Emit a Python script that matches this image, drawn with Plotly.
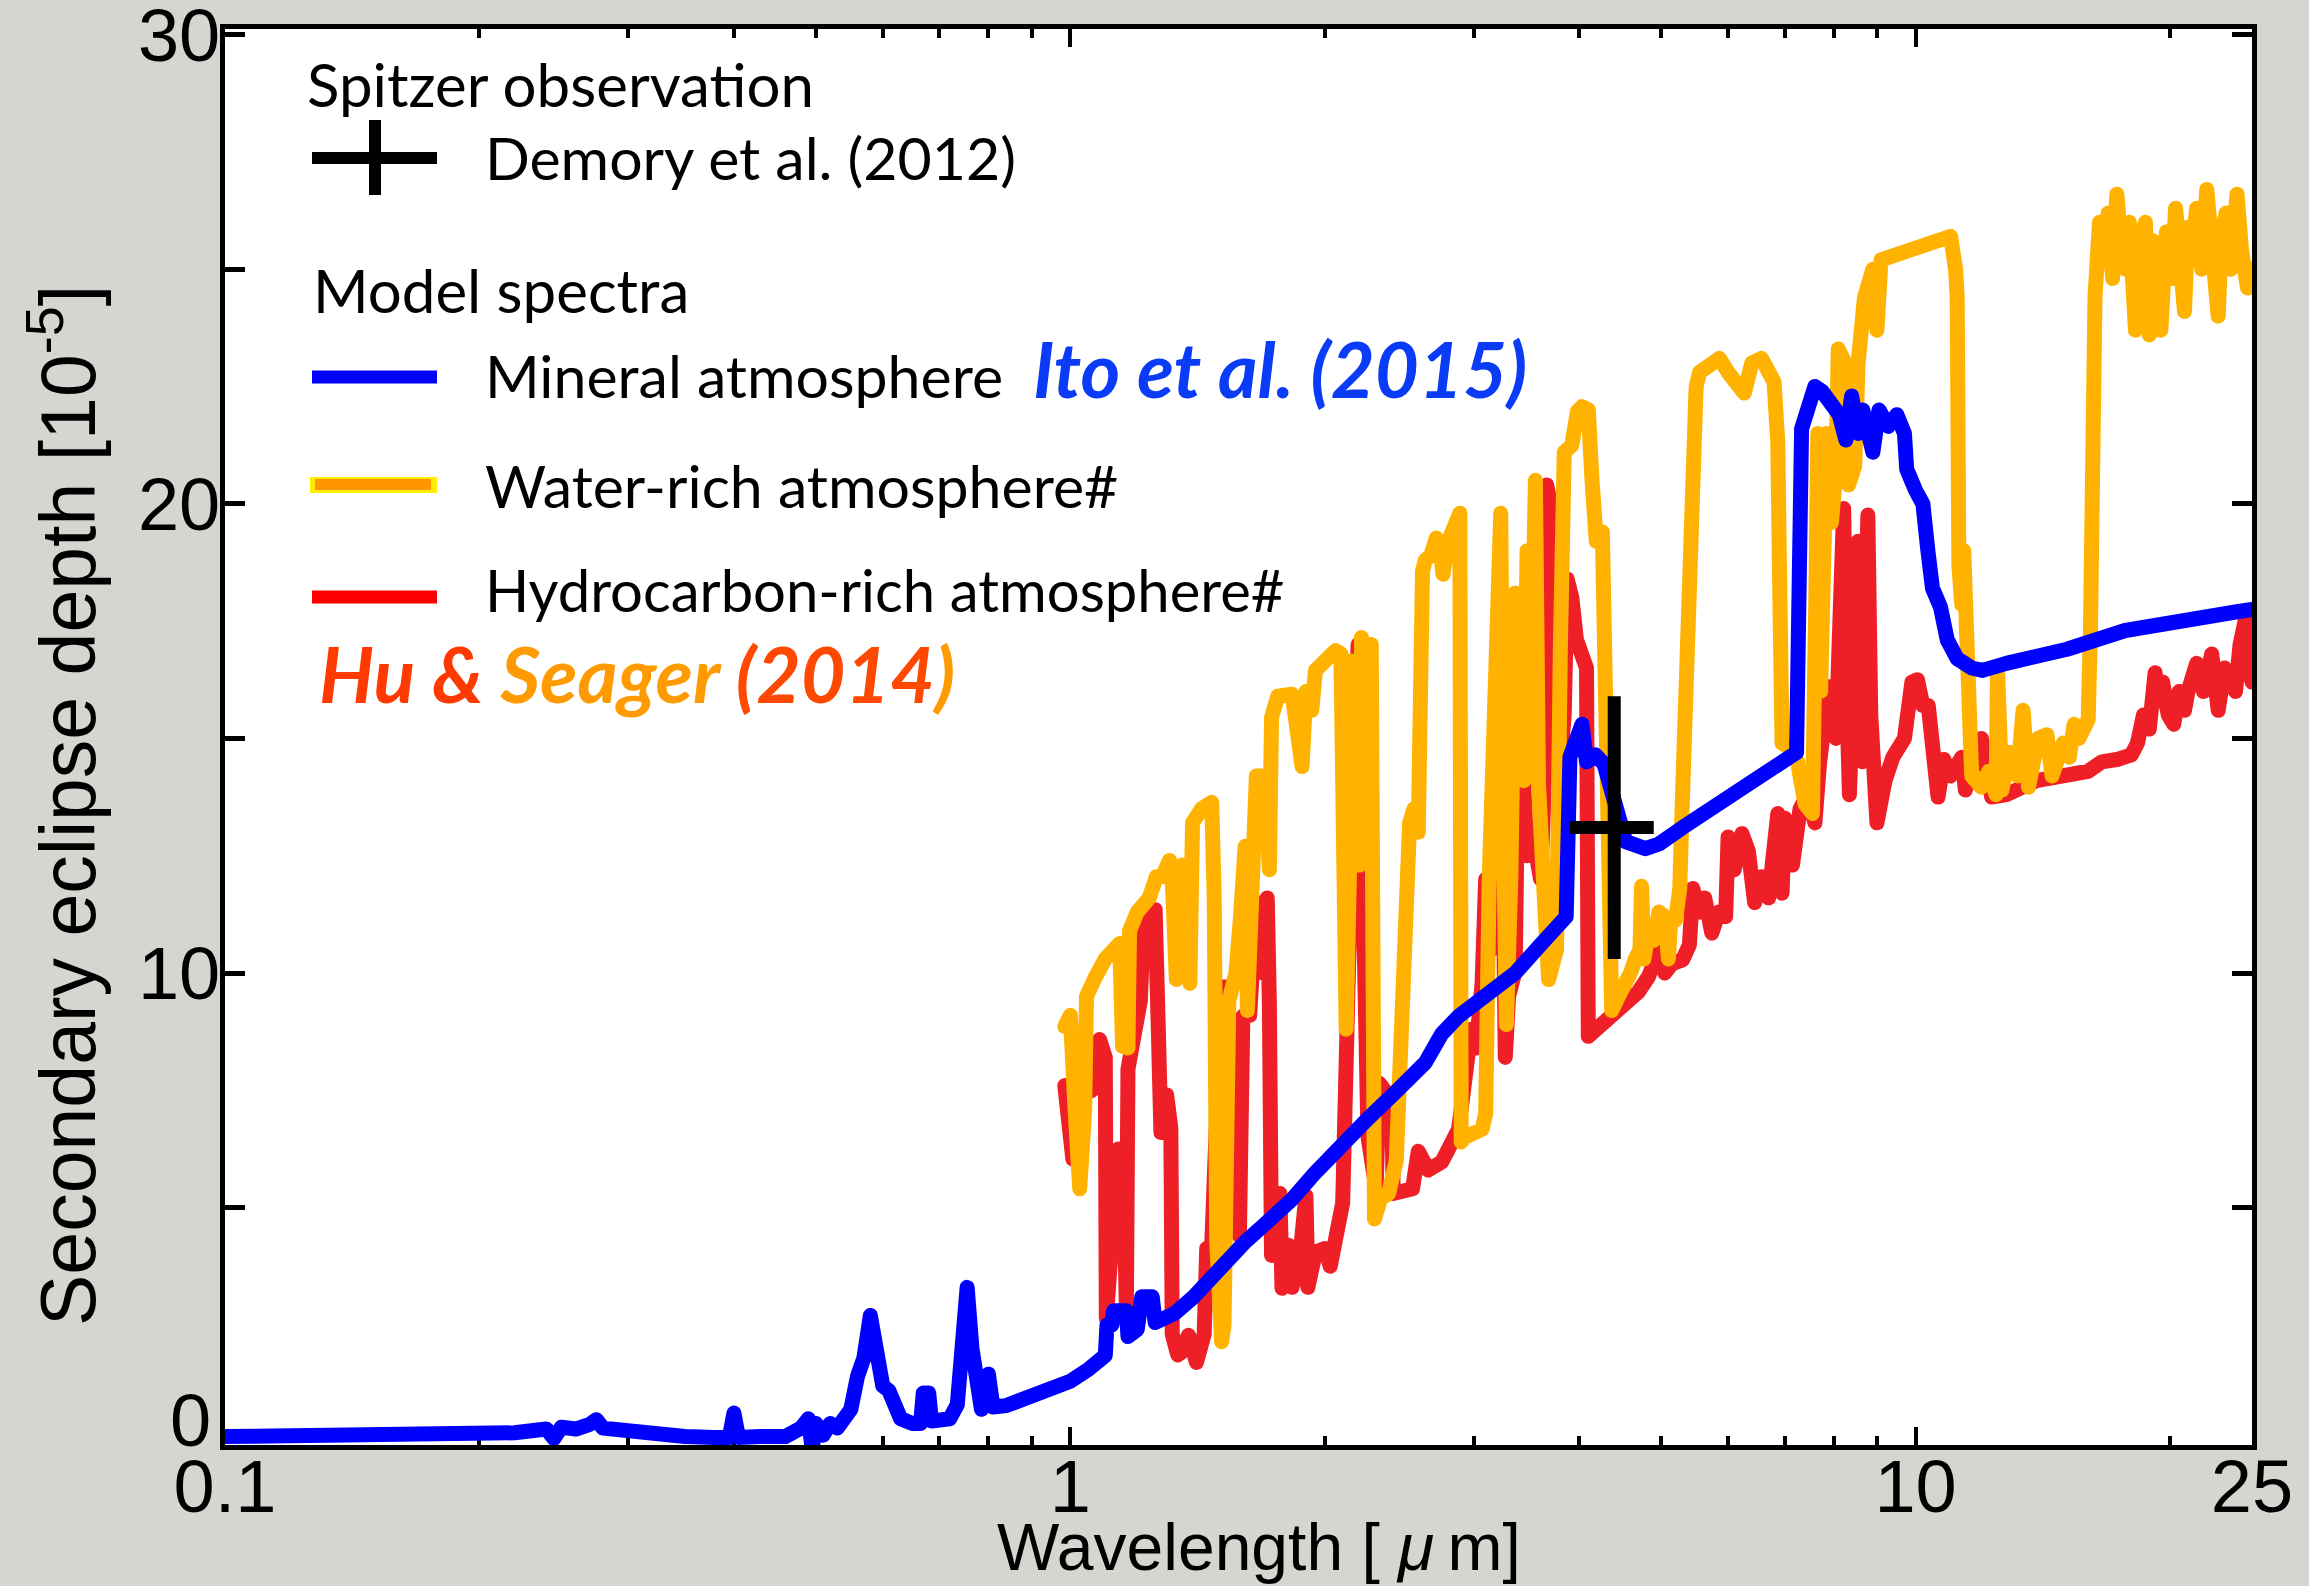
import plotly.graph_objects as go

# ---------------------------------------------------------------
# Model spectra: secondary eclipse depth [1e-5] vs wavelength [um]
# ---------------------------------------------------------------

# Mineral atmosphere (Ito et al. 2015)
mineral_wl = [
    0.100, 0.150, 0.200, 0.220, 0.240, 0.245, 0.250, 0.260, 0.270, 0.275,
    0.280, 0.290, 0.300, 0.310, 0.330, 0.350, 0.380, 0.395, 0.400, 0.405,
    0.430, 0.460, 0.480, 0.490, 0.495, 0.500, 0.510, 0.520, 0.530, 0.540,
    0.550, 0.560, 0.570, 0.580, 0.590, 0.600, 0.610, 0.620, 0.630, 0.650,
    0.665, 0.670, 0.680, 0.685, 0.700, 0.720, 0.735, 0.745, 0.755, 0.765,
    0.775, 0.785, 0.800, 0.810, 0.840, 0.900, 0.950, 1.000, 1.050, 1.080,
    1.100, 1.105, 1.120, 1.125, 1.165, 1.170, 1.200, 1.215, 1.250, 1.260,
    1.330, 1.400, 1.470, 1.540, 1.610, 1.700, 1.830, 1.950, 2.100, 2.250,
    2.400, 2.520, 2.630, 2.700, 2.750, 2.880, 3.100, 3.360, 3.600, 3.860,
    3.900, 4.030, 4.080, 4.180, 4.280, 4.390, 4.450, 4.540,
    4.790, 4.970, 5.300, 5.800, 6.640, 7.230, 7.330, 7.500, 7.600, 7.750,
    7.970, 8.120, 8.270, 8.400, 8.550, 8.660, 8.900, 9.050, 9.280, 9.500,
    9.700, 9.760, 9.990, 10.20, 10.34, 10.47, 10.70, 10.90, 11.20, 11.65,
    12.00, 12.80, 15.10, 17.70, 24.00, 25.00,
]
mineral_depth = [
    0.12, 0.12, 0.16, 0.20, 0.28, 0.08, 0.32, 0.28, 0.38, 0.48,
    0.30, 0.26, 0.22, 0.26, 0.15, 0.12, 0.10, 0.10, 0.62, 0.10,
    0.12, 0.12, 0.30, 0.50, -0.15, 0.40, 0.15, 0.40, 0.30, 0.50,
    0.70, 1.40, 1.80, 2.70, 1.80, 1.20, 1.10, 0.70, 0.50, 0.40,
    0.40, 1.05, 1.05, 0.45, 0.45, 0.50, 0.80, 1.80, 3.30, 2.00,
    1.00, 0.70, 1.45, 0.75, 0.78, 1.00, 1.12, 1.30, 1.55, 1.75,
    1.85, 2.50, 2.50, 2.80, 2.80, 2.25, 2.40, 3.10, 3.10, 2.55,
    2.75, 3.10, 3.55, 3.90, 4.27, 4.65, 5.18, 5.75, 6.38, 6.90,
    7.38, 7.75, 8.09, 8.45, 8.70, 9.08, 9.50, 10.00, 10.60, 11.20,
    14.60, 15.30, 14.50, 14.65, 14.45, 13.80, 13.30, 12.80,
    12.65, 12.75, 13.10, 13.55, 14.30, 14.70, 21.60, 22.20, 22.50, 22.40,
    22.00, 21.90, 21.36, 22.30, 21.50, 22.00, 21.10, 22.00, 21.65, 21.90,
    21.50, 20.74, 20.30, 20.00, 19.00, 18.20, 17.80, 17.10, 16.70, 16.50,
    16.45, 16.60, 16.90, 17.30, 17.70, 17.75,
]

# Water-rich atmosphere (Hu & Seager 2014)
water_wl = [
    0.985, 1.000, 1.012, 1.026, 1.040, 1.045, 1.070, 1.100, 1.144, 1.153,
    1.170, 1.175, 1.200, 1.240, 1.264, 1.285, 1.310, 1.320, 1.335, 1.355,
    1.385, 1.395, 1.430, 1.470, 1.480, 1.490, 1.510, 1.520, 1.540, 1.570,
    1.590, 1.610, 1.620, 1.640, 1.660, 1.700, 1.720, 1.730, 1.760, 1.830,
    1.850, 1.880, 1.900, 1.930, 1.950, 1.990, 2.060, 2.090, 2.100, 2.120,
    2.140, 2.150, 2.170, 2.200, 2.210, 2.240, 2.270, 2.280, 2.290, 2.330,
    2.380, 2.430, 2.470, 2.500, 2.520, 2.550, 2.580, 2.610, 2.630, 2.670,
    2.710, 2.740, 2.760, 2.800, 2.860, 2.890, 2.900, 2.930, 3.070, 3.100,
    3.130, 3.160, 3.230, 3.250, 3.280, 3.320, 3.360, 3.400, 3.440, 3.470,
    3.510, 3.550, 3.580, 3.680, 3.760, 3.800, 3.840, 3.920, 3.980, 4.030,
    4.100, 4.140, 4.180, 4.190, 4.260, 4.300, 4.330, 4.370, 4.450, 4.500,
    4.600, 4.660, 4.720, 4.740, 4.770, 4.830, 4.900, 4.970, 5.050, 5.100,
    5.130, 5.200, 5.260, 5.300, 5.380, 5.450, 5.500, 5.550, 5.860, 6.000,
    6.270, 6.400, 6.570, 6.800, 6.870, 6.900, 6.950, 7.100, 7.250, 7.400,
    7.550, 7.620, 7.660, 7.720, 7.780, 7.850, 7.950, 8.050, 8.100, 8.250,
    8.330, 8.470, 8.550, 8.700, 8.900, 9.000, 9.100, 9.500, 10.00, 10.50,
    11.00, 11.15, 11.20, 11.25, 11.34, 11.40, 11.50, 11.60, 11.65, 11.96,
    12.20, 12.45, 12.50, 12.65, 12.90, 13.20, 13.40, 13.60, 13.96, 14.30,
    14.50, 14.95, 15.20, 15.40, 15.60, 16.00, 16.10, 16.30, 16.50, 16.70,
    16.90, 17.10, 17.30, 17.50, 17.70, 17.90, 18.00, 18.20, 18.40, 18.70,
    18.90, 19.10, 19.40, 19.50, 19.80, 20.10, 20.30, 20.60, 20.80, 21.00,
    21.20, 21.50, 21.80, 22.10, 22.40, 22.80, 23.00, 23.30, 23.60, 24.00,
    24.30, 24.70, 25.00,
]
water_depth = [
    8.86, 9.10, 7.24, 5.40, 7.10, 9.50, 9.90, 10.30, 10.63, 8.44,
    8.40, 10.90, 11.30, 11.60, 12.05, 12.05, 12.40, 12.00, 9.86, 12.30,
    9.78, 13.20, 13.50, 13.64, 11.60, 4.30, 2.14, 2.50, 9.40, 10.00,
    11.20, 12.70, 9.20, 11.50, 14.20, 14.20, 12.20, 15.45, 15.90, 15.94,
    15.10, 14.40, 16.00, 15.60, 16.45, 16.60, 16.87, 16.80, 12.00, 8.80,
    12.30, 16.65, 12.30, 12.30, 17.15, 16.50, 17.00, 12.00, 4.76, 5.20,
    5.30, 6.00, 9.86, 12.00, 13.20, 13.50, 13.00, 18.56, 18.80, 18.90,
    19.27, 19.00, 18.50, 19.20, 19.60, 19.80, 6.40, 6.50, 6.67, 7.00,
    12.00, 13.80, 19.80, 14.00, 8.90, 12.00, 18.10, 15.90, 14.10, 19.00,
    16.00, 20.50, 14.00, 9.86, 10.50, 17.00, 21.10, 21.25, 21.97, 22.07,
    22.00, 20.55, 19.70, 19.20, 19.40, 15.60, 9.80, 9.20, 9.50, 9.65,
    10.00, 10.30, 10.50, 11.85, 10.30, 10.85, 10.70, 11.30, 11.20, 10.30,
    11.10, 11.13, 11.80, 13.80, 18.30, 20.50, 22.50, 22.80, 23.10, 22.80,
    22.36, 23.00, 23.10, 22.60, 21.30, 18.70, 14.90, 14.80, 14.50, 13.60,
    13.40, 18.00, 21.50, 16.00, 20.00, 21.50, 19.60, 20.70, 23.30, 23.00,
    20.40, 20.80, 23.00, 24.40, 25.00, 23.70, 25.20, 25.30, 25.50, 25.60,
    25.70, 25.00, 24.40, 18.70, 17.85, 19.00, 17.00, 15.45, 14.20, 13.96,
    14.30, 13.80, 16.44, 13.90, 14.70, 14.20, 15.60, 13.96, 15.00, 15.08,
    14.20, 14.90, 14.60, 15.30, 15.00, 15.40, 17.30, 24.40, 26.00, 25.20,
    26.20, 24.80, 26.60, 25.50, 25.00, 26.00, 24.50, 23.70, 25.40, 26.00,
    23.60, 25.60, 24.30, 23.70, 25.80, 24.80, 26.30, 25.00, 24.10, 25.90,
    25.20, 26.30, 25.00, 26.70, 25.30, 24.00, 25.70, 26.20, 25.00, 26.60,
    25.40, 24.60, 25.00,
]

# Hydrocarbon-rich atmosphere (Hu & Seager 2014)
hydro_wl = [
    0.985, 1.000, 1.007, 1.030, 1.060, 1.083, 1.100, 1.103, 1.120, 1.140,
    1.155, 1.165, 1.170, 1.197, 1.210, 1.220, 1.240, 1.260, 1.270, 1.280,
    1.300, 1.315, 1.320, 1.340, 1.350, 1.380, 1.410, 1.440, 1.450, 1.470,
    1.510, 1.530, 1.550, 1.585, 1.600, 1.630, 1.660, 1.690, 1.710, 1.720,
    1.730, 1.770, 1.780, 1.810, 1.830, 1.870, 1.900, 1.910, 1.950, 2.000,
    2.030, 2.100, 2.120, 2.150, 2.190, 2.220, 2.250, 2.300, 2.320, 2.400,
    2.410, 2.540, 2.580, 2.650, 2.750, 2.880, 2.980, 3.020, 3.070, 3.100,
    3.150, 3.210, 3.250, 3.270, 3.300, 3.360, 3.380, 3.430, 3.470, 3.520,
    3.600, 3.630, 3.660, 3.700, 3.720, 3.780, 3.840, 3.870, 3.920, 3.970,
    4.030, 4.080, 4.100, 4.140, 4.580, 4.700, 4.830, 4.900, 5.000, 5.050,
    5.150, 5.300, 5.400, 5.450, 5.550, 5.630, 5.740, 5.850, 5.960, 6.000,
    6.100, 6.230, 6.340, 6.450, 6.570, 6.700, 6.870, 6.950, 7.000, 7.150,
    7.300, 7.450, 7.600, 7.700, 7.900, 8.050, 8.150, 8.220, 8.300, 8.350,
    8.450, 8.550, 8.650, 8.780, 8.850, 9.000, 9.200, 9.400, 9.700, 9.900,
    10.05, 10.20, 10.35, 10.50, 10.63, 10.80, 11.00, 11.34, 11.45, 11.96,
    12.15, 12.30, 12.80, 13.90, 16.00, 16.60, 17.30, 18.00, 18.30, 18.60,
    18.90, 19.20, 19.40, 19.60, 19.90, 20.20, 20.50, 20.80, 21.00, 21.30,
    21.50, 21.90, 22.40, 22.80, 23.20, 23.60, 23.90, 24.20, 24.60, 24.80,
    25.00,
]
hydro_depth = [
    7.60, 6.50, 6.03, 7.40, 7.50, 8.58, 8.20, 2.64, 4.50, 6.25,
    6.00, 2.85, 7.95, 8.87, 9.40, 10.90, 11.10, 11.35, 9.00, 6.60,
    7.40, 6.70, 2.30, 1.86, 1.90, 2.28, 1.70, 2.30, 4.13, 4.20,
    9.70, 9.70, 5.68, 4.40, 9.08, 9.10, 11.50, 10.00, 11.60, 9.30,
    3.98, 5.30, 3.28, 4.20, 3.30, 4.00, 5.25, 3.30, 4.05, 4.13,
    3.75, 5.10, 9.30, 12.50, 17.00, 12.00, 6.50, 5.40, 7.65, 7.30,
    5.30, 5.40, 6.20, 5.80, 5.97, 6.67, 8.80, 8.40, 9.78, 12.00,
    10.50, 10.60, 12.50, 8.20, 9.50, 10.05, 13.80, 14.50, 12.50, 13.00,
    12.00, 13.50, 20.40, 20.00, 15.40, 14.00, 15.50, 18.40, 18.00, 17.10,
    16.80, 16.50, 8.65, 8.72, 9.35, 9.60, 9.92, 10.30, 10.60, 10.00,
    10.20, 10.28, 10.60, 11.80, 11.30, 11.60, 10.85, 11.30, 11.20, 12.90,
    12.20, 12.97, 12.60, 11.50, 12.05, 11.60, 13.40, 11.70, 13.30, 12.30,
    13.50, 13.80, 13.20, 14.50, 16.10, 15.00, 17.00, 19.90, 15.50, 13.80,
    16.50, 19.20, 14.50, 19.76, 15.50, 13.20, 14.10, 14.60, 15.00, 16.20,
    16.25, 15.70, 15.70, 14.70, 13.75, 14.55, 14.20, 14.60, 13.90, 15.00,
    13.90, 13.75, 13.80, 14.10, 14.30, 14.50, 14.55, 14.65, 14.90, 15.50,
    15.20, 16.40, 15.80, 16.20, 15.50, 15.30, 16.00, 15.60, 16.00, 16.50,
    16.60, 16.00, 16.80, 15.60, 16.50, 16.30, 16.00, 17.00, 17.60, 16.50,
    16.20,
]

# Spitzer 4.5 um secondary eclipse (Demory et al. 2012)
obs_wl = [4.4]
obs_depth = [13.1]
obs_depth_err = [2.8]
obs_wl_err_minus = [0.5]
obs_wl_err_plus = [0.5]

# Axis ticks
x_tick_vals = [0.1, 1, 10, 25]
x_tick_text = ["0.1", "1", "10", "25"]
x_minor_vals = [0.2, 0.3, 0.4, 0.5, 0.6, 0.7, 0.8, 0.9,
                2, 3, 4, 5, 6, 7, 8, 9, 20]
y_tick_vals = [10, 20, 30]
y_tick_text = ["10", "20", "30"]
y_minor_vals = [5, 15, 25]
y_zero_label = "0"

# ---------------------------------------------------------------
W, H = 2309, 1586
PL, PR, PT, PB = 225, 2252, 29, 1445   # plot-area edges in pixels


def px(x, y):
    """Pixel position on the page -> paper coordinates."""
    return (x - PL) / (PR - PL), (PB - y) / (PB - PT)


AXIS_FONT = "Liberation Sans, Arial, Helvetica, sans-serif"
TEXT_FONT = "Lato, Open Sans, sans-serif"
LW = 15

fig = go.Figure()

fig.add_trace(go.Scatter(
    x=hydro_wl, y=hydro_depth, mode="lines",
    line=dict(color="#ee1f26", width=LW), name="Hydrocarbon-rich atmosphere#",
))
fig.add_trace(go.Scatter(
    x=water_wl, y=water_depth, mode="lines",
    line=dict(color="#ffb300", width=LW), name="Water-rich atmosphere#",
))
fig.add_trace(go.Scatter(
    x=mineral_wl, y=mineral_depth, mode="lines",
    line=dict(color="#0000ff", width=LW), name="Mineral atmosphere",
))
fig.add_trace(go.Scatter(
    x=obs_wl, y=obs_depth, mode="markers",
    marker=dict(size=1, color="black", opacity=0),
    error_y=dict(type="data", array=obs_depth_err, color="black",
                 thickness=13, width=0),
    error_x=dict(type="data", array=obs_wl_err_plus,
                 arrayminus=obs_wl_err_minus, color="black",
                 thickness=13, width=0),
    name="Demory et al. (2012)",
))

fig.update_xaxes(
    type="log", range=[-1, 1.39794], automargin=False,
    tickmode="array", tickvals=x_tick_vals, ticktext=x_tick_text,
    ticks="inside", ticklen=18, tickwidth=4, tickcolor="black",
    minor=dict(tickmode="array", tickvals=x_minor_vals, ticks="inside",
               ticklen=9, tickwidth=4, tickcolor="black", showgrid=False),
    showline=True, linewidth=5, linecolor="black", mirror="allticks",
    showgrid=False, zeroline=False, layer="below traces",
    ticklabelstandoff=-27, ticklabeloverflow="allow",
    tickfont=dict(family=AXIS_FONT, size=74, color="black"),
)
fig.update_yaxes(
    range=[-0.06, 30.12], automargin=False,
    tickmode="array", tickvals=y_tick_vals, ticktext=y_tick_text,
    ticks="inside", ticklen=20, tickwidth=5, tickcolor="black",
    minor=dict(tickmode="array", tickvals=y_minor_vals, ticks="inside",
               ticklen=20, tickwidth=5, tickcolor="black", showgrid=False),
    showline=True, linewidth=5, linecolor="black", mirror="allticks",
    showgrid=False, zeroline=False, layer="below traces",
    ticklabelstandoff=-15, ticklabeloverflow="allow",
    tickfont=dict(family=AXIS_FONT, size=74, color="black"),
)

annotations = []


def note(x, y, text, size, color="black", family=TEXT_FONT, anchor="left",
         angle=0):
    xp, yp = px(x, y)
    annotations.append(dict(
        x=xp, y=yp, xref="paper", yref="paper", text=text, showarrow=False,
        xanchor=anchor, yanchor="middle", textangle=angle,
        font=dict(family=family, size=size, color=color),
    ))


# zero label of the depth axis, lifted clear of the wavelength labels
note(213, 1420, y_zero_label, 74, family=AXIS_FONT, anchor="right")

# axis titles
note(1259, 1547, "Wavelength [ <i>\u03bc</i>\u2009m]", 66,
     family=AXIS_FONT, anchor="center")
note(62, 806, "Secondary eclipse depth [10<sup>-5</sup>]", 77,
     family=AXIS_FONT, anchor="center", angle=-90)

# legend text
note(305, 84, "Spitzer observation", 60)
note(483, 158, "Demory et al. (2012)", 59)
note(311, 290, "Model spectra", 60)
note(483, 376, "Mineral atmosphere", 59)
note(483, 486, "Water-rich atmosphere#", 59)
note(483, 589, "Hydrocarbon-rich atmosphere#", 58)
note(1031, 368, "<b><i>Ito et al. (2015)</i></b>", 76, color="#0a3cf8")
note(317, 673,
     "<b><i><span style='color:#ff3a00'>Hu &amp; </span>"
     "<span style='color:#ff9a00'>Seager </span>"
     "<span style='color:#ff4800'>(2014</span>"
     "<span style='color:#ff9a00'>)</span></i></b>", 77)

fig.update_layout(annotations=annotations)

# legend swatches
shapes = []


def seg(x0, y0, x1, y1, color, width):
    a, b = px(x0, y0)
    c, d = px(x1, y1)
    shapes.append(dict(type="line", xref="paper", yref="paper",
                       x0=a, y0=b, x1=c, y1=d,
                       line=dict(color=color, width=width)))


def box(x0, y0, x1, y1, color):
    a, b = px(x0, y0)
    c, d = px(x1, y1)
    shapes.append(dict(type="rect", xref="paper", yref="paper",
                       x0=a, y0=b, x1=c, y1=d, fillcolor=color,
                       line=dict(width=0)))


seg(312, 158, 437, 158, "black", 12)
seg(375, 120, 375, 195, "black", 12)
seg(312, 377, 437, 377, "#0000ff", 13)
box(310, 477, 437, 493, "#ffee00")
box(315, 479, 431, 490, "#ff9500")
seg(312, 597, 437, 597, "#ff0000", 13)

fig.update_layout(
    shapes=shapes,
    width=W, height=H,
    margin=dict(l=PL, r=W - PR, t=PT, b=H - PB, pad=0, autoexpand=False),
    paper_bgcolor="#d6d6d0",
    plot_bgcolor="white",
    showlegend=False,
)

round_joins = (
    "document.querySelectorAll('.scatterlayer .js-line').forEach(function(p){"
    "p.style.strokeLinejoin='round';p.style.strokeLinecap='round';});"
)
fig.write_html("out.html", post_script=round_joins)
